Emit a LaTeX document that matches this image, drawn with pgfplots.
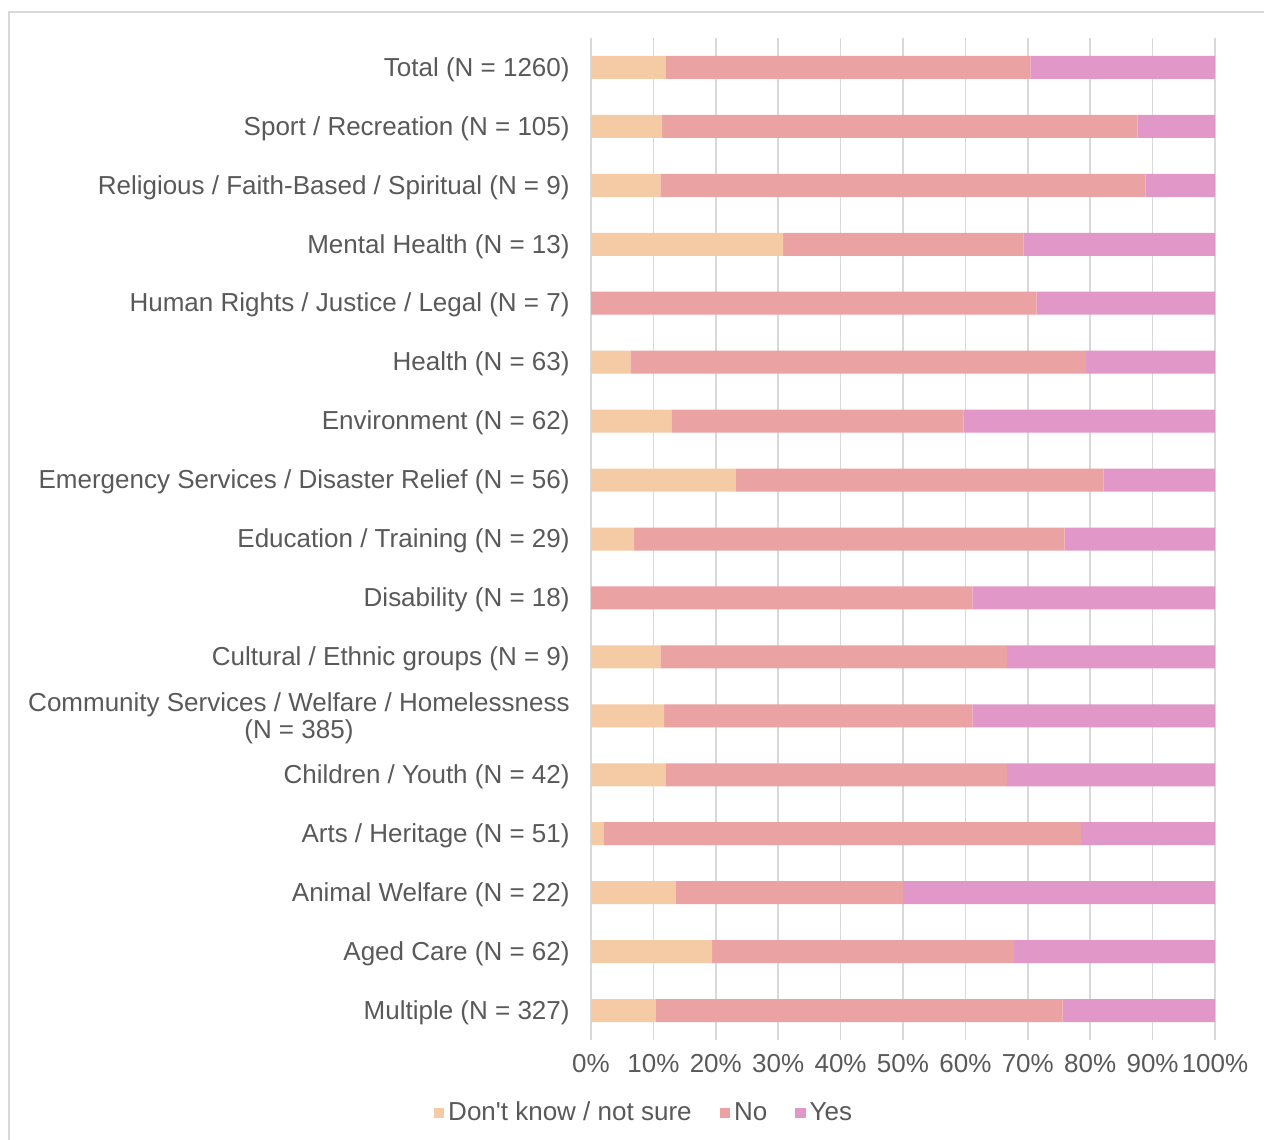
\documentclass[border=0pt]{standalone}
\usepackage{pgfplots}
\pgfplotsset{compat=1.18}
\usepackage{fontspec}
\setmainfont{Liberation Sans}[Ligatures=TeXOff]
\definecolor{dk}{HTML}{F5CBA5}
\definecolor{no}{HTML}{EBA2A3}
\definecolor{yes}{HTML}{E197C8}
\definecolor{txt}{HTML}{595959}
\definecolor{gridc}{HTML}{D9D9D9}
\begin{document}
\begin{tikzpicture}[x=0.5pt,y=0.5pt]
\useasboundingbox (0,0) rectangle (1264,1140);
\draw[gridc, line width=1pt] (9,0) -- (9,1128) -- (1264,1128);
\coordinate (A) at (591,100);
\begin{axis}[
  at={(A)}, anchor=south west,
  scale only axis, width=312pt, height=501pt,
  xbar stacked, bar width=11.5pt,
  xmin=0, xmax=100, ymin=-0.5, ymax=16.5, y dir=reverse,
  xtick={0,10,...,100},
  xticklabel={\pgfmathprintnumber{\tick}\%},
  /pgf/number format/assume math mode=true,
  ytick={0,...,16},
  yticklabels={Total (N = 1260),Sport / Recreation (N = 105),Religious / Faith-Based / Spiritual (N = 9),Mental Health (N = 13),Human Rights / Justice / Legal (N = 7),Health (N = 63),Environment (N = 62),Emergency Services / Disaster Relief (N = 56),Education / Training (N = 29),Disability (N = 18),Cultural / Ethnic groups (N = 9),{Community Services / Welfare / Homelessness\\(N = 385)},Children / Youth (N = 42),Arts / Heritage (N = 51),Animal Welfare (N = 22),Aged Care (N = 62),Multiple (N = 327)},
  yticklabel style={align=center, font=\fontsize{13}{13.5}\selectfont, text=txt, inner sep=0pt, xshift=-10.5pt, yshift=-1pt},
  xticklabel style={font=\fontsize{13}{14}\selectfont, text=txt, inner sep=0pt, yshift=-7pt},
  xmajorgrids, grid style={gridc, line width=0.75pt},
  axis line style={draw=none},
  major tick length=0pt,
  legend style={at={(0.0865,-0.0729)}, anchor=center, draw=none, legend columns=3,
    font=\fontsize{13}{14}\selectfont, text=txt,
    /tikz/every even column/.append style={column sep=12pt}},
  legend image code/.code={\fill[#1] (0pt,-2.6pt) rectangle (5.2pt,2.6pt);},
]
\addplot[fill=dk, draw=none] coordinates {(11.9,0) (11.4,1) (11.1,2) (30.8,3) (0,4) (6.3,5) (12.9,6) (23.2,7) (6.9,8) (0,9) (11.1,10) (11.7,11) (11.9,12) (2.0,13) (13.6,14) (19.4,15) (10.4,16)};
\addplot[fill=no, draw=none] coordinates {(58.5,0) (76.2,1) (77.8,2) (38.5,3) (71.4,4) (73.0,5) (46.8,6) (58.9,7) (69.0,8) (61.1,9) (55.6,10) (49.4,11) (54.8,12) (76.5,13) (36.4,14) (48.4,15) (65.2,16)};
\addplot[fill=yes, draw=none] coordinates {(29.6,0) (12.4,1) (11.1,2) (30.8,3) (28.6,4) (20.7,5) (40.3,6) (17.9,7) (24.1,8) (38.9,9) (33.3,10) (38.9,11) (33.3,12) (21.6,13) (50.0,14) (32.3,15) (24.4,16)};
\legend{Don't know / not sure, No, Yes}
\end{axis}
\end{tikzpicture}
\end{document}
